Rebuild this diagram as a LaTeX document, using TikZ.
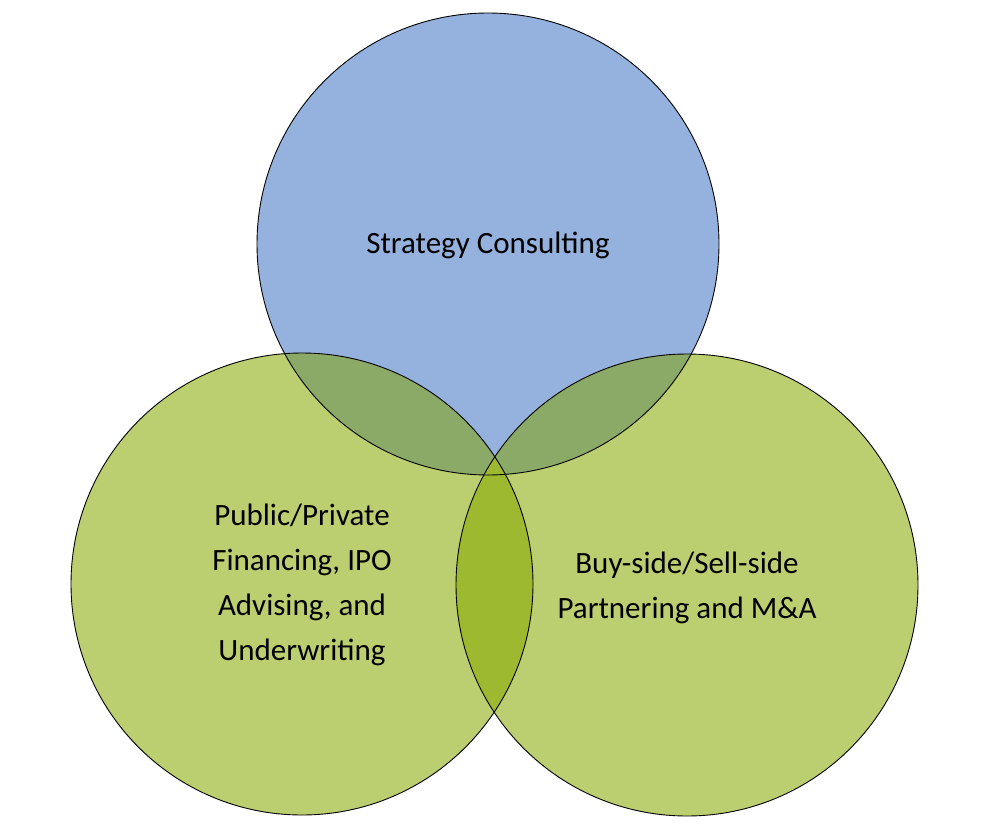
\documentclass[tikz,border=0pt]{standalone}
\usepackage{fontspec}
\setmainfont{Carlito}
\definecolor{cblue}{RGB}{149,177,221}
\definecolor{cgreen}{RGB}{187,207,113}
\definecolor{ctg}{RGB}{139,170,104}
\definecolor{cgg}{RGB}{157,185,47}
\begin{document}
\begin{tikzpicture}[x=1pt,y=-1pt,
  lbl/.style={font=\fontsize{31}{45}\selectfont,align=center,text=black},
  ring/.style={draw=black,line width=0.9pt}]
\useasboundingbox (0,0) rectangle (990,840);
\coordinate (T) at (488,244);
\coordinate (L) at (302,584);
\coordinate (R) at (687,585);
\fill[cblue] (T) circle[radius=231];
\fill[cgreen] (L) circle[radius=231];
\fill[cgreen] (R) circle[radius=231];
\begin{scope}
\clip (T) circle[radius=231];
\fill[ctg] (L) circle[radius=231];
\fill[ctg] (R) circle[radius=231];
\end{scope}
\begin{scope}
\clip (L) circle[radius=231];
\fill[cgg] (R) circle[radius=231];
\end{scope}
\draw[ring] (T) circle[radius=231];
\draw[ring] (L) circle[radius=231];
\draw[ring] (R) circle[radius=231];
\node[lbl] (tt) at (488,245) {Strategy Consulting};
\node[lbl] (lt) at (302,585) {Public/Private\\Financing, IPO\\Advising, and\\Underwriting};
\node[lbl] (rt) at (687,588) {Buy-side/Sell-side\\Partnering and M\&A};
\end{tikzpicture}
\end{document}
